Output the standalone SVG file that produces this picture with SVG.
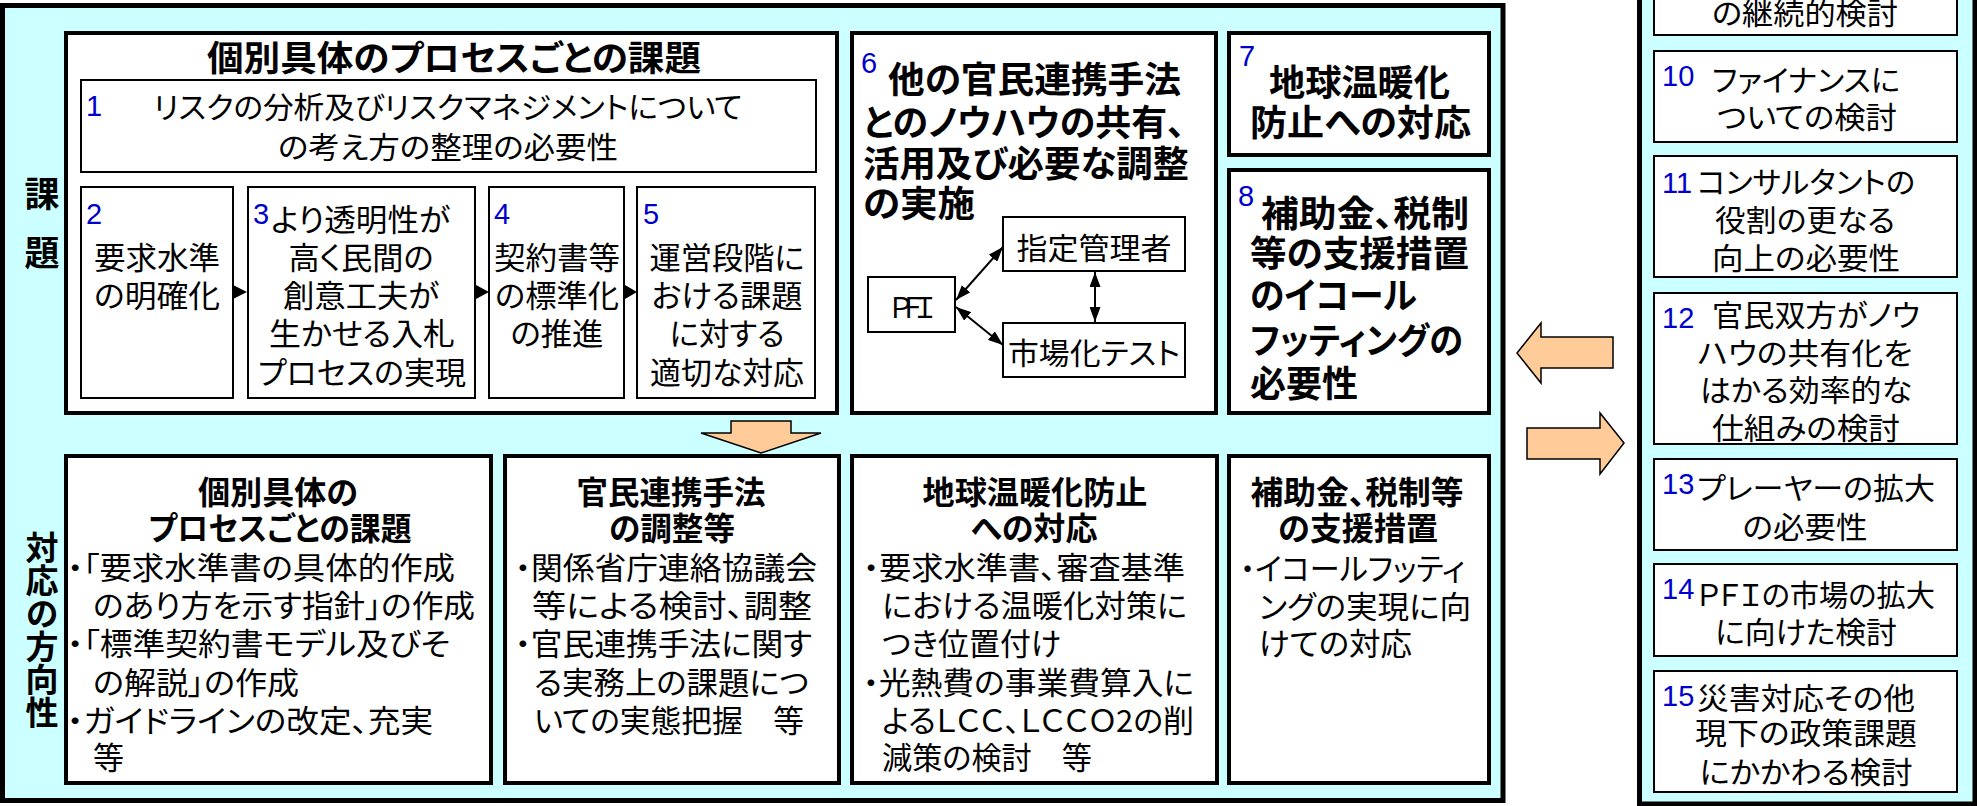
<svg xmlns="http://www.w3.org/2000/svg" width="1977" height="806" viewBox="0 0 1977 806">
<style>
.t{font-family:"Noto Sans CJK JP","Noto Sans CJK SC",sans-serif;font-feature-settings:"palt" 1;fill:#000}
.v{font-family:"Noto Sans CJK JP","Noto Sans CJK SC",sans-serif;font-weight:bold;writing-mode:vertical-rl;fill:#000}
.b{font-weight:bold}
.s30{font-size:30px}
.s31{font-size:31px}
.s32{font-size:32px}
.s36{font-size:36px}
.n{font-family:"Liberation Sans",Arial,sans-serif;font-size:29px;fill:#0000CC}
.m{text-anchor:middle}
.thick{fill:#fff;stroke:#000;stroke-width:4}
.thin{fill:#fff;stroke:#000;stroke-width:2}
.panel{fill:#CCFFFF;stroke:#000;stroke-width:5}
.blk{fill:#FFCC99;stroke:#000;stroke-width:1.5}
.ln{stroke:#000;stroke-width:2;fill:none}
</style>
<defs>
<marker id="ah" viewBox="0 0 15 11" refX="15" refY="5.5" markerWidth="15" markerHeight="11" markerUnits="userSpaceOnUse" orient="auto-start-reverse">
<path d="M0,0 L15,5.5 L0,11 Z" fill="#000"/>
</marker>
</defs>
<rect x="0" y="0" width="1977" height="806" fill="#fff"/>
<g id="panel-left">
<rect class="panel" x="2.5" y="5.5" width="1500.5" height="795"/>
<text class="v" x="42" y="176" font-size="35" letter-spacing="24">課題</text>
<text class="v" x="42" y="531" font-size="33">対応の方向性</text>
</g>
<g id="panel-right">
<rect class="panel" x="1639.5" y="-10" width="335.5" height="814"/>
</g>
<g id="box-A">
<rect class="thick" x="66" y="33" width="771" height="380"/>
<text class="t b m" font-size="35" x="454" y="71" textLength="494" lengthAdjust="spacingAndGlyphs">個別具体のプロセスごとの課題</text>
</g>
<g id="box-1">
<rect class="thin" x="81" y="80" width="735" height="92"/>
<text class="n" x="86" y="116">1</text>
<text class="t s30 m" x="448" y="118" textLength="589" lengthAdjust="spacingAndGlyphs">リスクの分析及びリスクマネジメントについて</text>
<text class="t s30 m" x="448" y="158" textLength="340" lengthAdjust="spacingAndGlyphs">の考え方の整理の必要性</text>
</g>
<g id="box-2">
<rect class="thin" x="81" y="187" width="152" height="211"/>
<text class="n" x="86" y="224">2</text>
<text class="t s31 m" x="157" y="269" textLength="126" lengthAdjust="spacingAndGlyphs">要求水準</text>
<text class="t s31 m" x="157" y="307" textLength="126" lengthAdjust="spacingAndGlyphs">の明確化</text>
</g>
<g id="box-3">
<rect class="thin" x="248" y="187" width="227" height="211"/>
<text class="n" x="253" y="224">3</text>
<text class="t s31" x="271" y="231" textLength="179" lengthAdjust="spacingAndGlyphs">より透明性が</text>
<text class="t s31 m" x="361" y="269" textLength="145" lengthAdjust="spacingAndGlyphs">高く民間の</text>
<text class="t s31 m" x="361" y="307" textLength="156" lengthAdjust="spacingAndGlyphs">創意工夫が</text>
<text class="t s31 m" x="362" y="345" textLength="186" lengthAdjust="spacingAndGlyphs">生かせる入札</text>
<text class="t s31 m" x="362" y="384" textLength="208" lengthAdjust="spacingAndGlyphs">プロセスの実現</text>
</g>
<g id="box-4">
<rect class="thin" x="489" y="187" width="135" height="211"/>
<text class="n" x="494" y="224">4</text>
<text class="t s31 m" x="557" y="269" textLength="126" lengthAdjust="spacingAndGlyphs">契約書等</text>
<text class="t s31 m" x="557" y="307" textLength="124" lengthAdjust="spacingAndGlyphs">の標準化</text>
<text class="t s31 m" x="557" y="345" textLength="93" lengthAdjust="spacingAndGlyphs">の推進</text>
</g>
<g id="box-5">
<rect class="thin" x="637" y="187" width="178" height="211"/>
<text class="n" x="643" y="224">5</text>
<text class="t s31 m" x="727" y="269" textLength="155" lengthAdjust="spacingAndGlyphs">運営段階に</text>
<text class="t s31 m" x="727" y="307" textLength="151" lengthAdjust="spacingAndGlyphs">おける課題</text>
<text class="t s31 m" x="727" y="345" textLength="115" lengthAdjust="spacingAndGlyphs">に対する</text>
<text class="t s31 m" x="727" y="384" textLength="154" lengthAdjust="spacingAndGlyphs">適切な対応</text>
</g>
<g id="box-6">
<rect class="thick" x="852" y="33" width="364" height="380"/>
<text class="n" x="861" y="73">6</text>
<text class="t b s36" x="888" y="93" textLength="293" lengthAdjust="spacingAndGlyphs">他の官民連携手法</text>
<text class="t b s36" x="863" y="136" textLength="322" lengthAdjust="spacingAndGlyphs">とのノウハウの共有、</text>
<text class="t b s36" x="863" y="177" textLength="326" lengthAdjust="spacingAndGlyphs">活用及び必要な調整</text>
<text class="t b s36" x="863" y="217" textLength="112" lengthAdjust="spacingAndGlyphs">の実施</text>
</g>
<g id="node-shitei">
<rect class="thin" x="1003" y="217" width="182" height="54"/>
<text class="t s30 m" x="1094" y="259" textLength="155" lengthAdjust="spacingAndGlyphs">指定管理者</text>
</g>
<g id="node-pfi">
<rect class="thin" x="868" y="277" width="87" height="55"/>
<text class="m" x="913" y="318" font-family="Noto Sans CJK JP,sans-serif" font-size="28" textLength="52" lengthAdjust="spacing">ＰＦＩ</text>
</g>
<g id="node-shijo">
<rect class="thin" x="1003" y="323" width="182" height="54"/>
<text class="t s30 m" x="1094" y="364" textLength="172" lengthAdjust="spacingAndGlyphs">市場化テスト</text>
</g>
<g id="box-7">
<rect class="thick" x="1229" y="33" width="260" height="122"/>
<text class="n" x="1239" y="66">7</text>
<text class="t b s36" x="1269" y="96" textLength="181" lengthAdjust="spacingAndGlyphs">地球温暖化</text>
<text class="t b s36" x="1250" y="136" textLength="221" lengthAdjust="spacingAndGlyphs">防止への対応</text>
</g>
<g id="box-8">
<rect class="thick" x="1229" y="170" width="260" height="243"/>
<text class="n" x="1238" y="206">8</text>
<text class="t b s36" x="1261" y="227" textLength="208" lengthAdjust="spacingAndGlyphs">補助金、税制</text>
<text class="t b s36" x="1250" y="267" textLength="219" lengthAdjust="spacingAndGlyphs">等の支援措置</text>
<text class="t b s36" x="1250" y="309" textLength="167" lengthAdjust="spacingAndGlyphs">のイコール</text>
<text class="t b s36" x="1250" y="354" textLength="213" lengthAdjust="spacingAndGlyphs">フッティングの</text>
<text class="t b s36" x="1250" y="397" textLength="108" lengthAdjust="spacingAndGlyphs">必要性</text>
</g>
<g id="box-B1">
<rect class="thick" x="66" y="456" width="425" height="327"/>
<text class="t b s32 m" x="278" y="504" textLength="160" lengthAdjust="spacingAndGlyphs">個別具体の</text>
<text class="t b s32 m" x="280" y="540" textLength="263" lengthAdjust="spacingAndGlyphs">プロセスごとの課題</text>
<text class="t s31" x="67" y="579" textLength="388" lengthAdjust="spacingAndGlyphs">・「要求水準書の具体的作成</text>
<text class="t s31" x="93" y="617" textLength="382" lengthAdjust="spacingAndGlyphs">のあり方を示す指針」の作成</text>
<text class="t s31" x="67" y="655" textLength="383" lengthAdjust="spacingAndGlyphs">・「標準契約書モデル及びそ</text>
<text class="t s31" x="93" y="694" textLength="206" lengthAdjust="spacingAndGlyphs">の解説」の作成</text>
<text class="t s31" x="67" y="732" textLength="366" lengthAdjust="spacingAndGlyphs">・ガイドラインの改定、充実</text>
<text class="t s31" x="93" y="769">等</text>
</g>
<g id="box-B2">
<rect class="thick" x="505" y="456" width="334" height="327"/>
<text class="t b s32 m" x="671" y="504" textLength="189" lengthAdjust="spacingAndGlyphs">官民連携手法</text>
<text class="t b s32 m" x="672" y="540" textLength="126" lengthAdjust="spacingAndGlyphs">の調整等</text>
<text class="t s31" x="515" y="579" textLength="302" lengthAdjust="spacingAndGlyphs">・関係省庁連絡協議会</text>
<text class="t s31" x="532" y="617" textLength="280" lengthAdjust="spacingAndGlyphs">等による検討、調整</text>
<text class="t s31" x="515" y="655" textLength="297" lengthAdjust="spacingAndGlyphs">・官民連携手法に関す</text>
<text class="t s31" x="534" y="694" textLength="275" lengthAdjust="spacingAndGlyphs">る実務上の課題につ</text>
<text class="t s31" x="534" y="732" textLength="270" lengthAdjust="spacingAndGlyphs">いての実態把握　等</text>
</g>
<g id="box-B3">
<rect class="thick" x="852" y="456" width="365" height="327"/>
<text class="t b s32 m" x="1035" y="504" textLength="225" lengthAdjust="spacingAndGlyphs">地球温暖化防止</text>
<text class="t b s32 m" x="1034" y="540" textLength="127" lengthAdjust="spacingAndGlyphs">への対応</text>
<text class="t s31" x="863" y="579" textLength="322" lengthAdjust="spacingAndGlyphs">・要求水準書、審査基準</text>
<text class="t s31" x="882" y="617" textLength="305" lengthAdjust="spacingAndGlyphs">における温暖化対策に</text>
<text class="t s31" x="882" y="655" textLength="179" lengthAdjust="spacingAndGlyphs">つき位置付け</text>
<text class="t s31" x="863" y="694" textLength="331" lengthAdjust="spacingAndGlyphs">・光熱費の事業費算入に</text>
<text class="t s31" x="882" y="732" textLength="312" lengthAdjust="spacingAndGlyphs">よるＬＣＣ、ＬＣＣＯ2の削</text>
<text class="t s31" x="882" y="769" textLength="210" lengthAdjust="spacingAndGlyphs">減策の検討　等</text>
</g>
<g id="box-B4">
<rect class="thick" x="1229" y="456" width="260" height="327"/>
<text class="t b s32 m" x="1357" y="504" textLength="213" lengthAdjust="spacingAndGlyphs">補助金、税制等</text>
<text class="t b s32 m" x="1358" y="540" textLength="160" lengthAdjust="spacingAndGlyphs">の支援措置</text>
<text class="t s31" x="1240" y="580" textLength="225" lengthAdjust="spacingAndGlyphs">・イコールフッティ</text>
<text class="t s31" x="1259" y="618" textLength="212" lengthAdjust="spacingAndGlyphs">ングの実現に向</text>
<text class="t s31" x="1259" y="655" textLength="153" lengthAdjust="spacingAndGlyphs">けての対応</text>
</g>
<g id="box-9">
<rect class="thin" x="1654" y="-20" width="303" height="55"/>
<text class="t s30 m" x="1805" y="24" textLength="186" lengthAdjust="spacingAndGlyphs">の継続的検討</text>
</g>
<g id="box-10">
<rect class="thin" x="1654" y="51" width="303" height="91"/>
<text class="n" x="1662" y="86">10</text>
<text class="t s30" x="1712" y="91" textLength="188" lengthAdjust="spacingAndGlyphs">ファイナンスに</text>
<text class="t s30 m" x="1807" y="128" textLength="180" lengthAdjust="spacingAndGlyphs">ついての検討</text>
</g>
<g id="box-11">
<rect class="thin" x="1654" y="156" width="303" height="121"/>
<text class="n" x="1662" y="193">11</text>
<text class="t s30" x="1697" y="193" textLength="218" lengthAdjust="spacingAndGlyphs">コンサルタントの</text>
<text class="t s30 m" x="1805" y="231" textLength="180" lengthAdjust="spacingAndGlyphs">役割の更なる</text>
<text class="t s30 m" x="1806" y="269" textLength="188" lengthAdjust="spacingAndGlyphs">向上の必要性</text>
</g>
<g id="box-12">
<rect class="thin" x="1654" y="293" width="303" height="151"/>
<text class="n" x="1662" y="328">12</text>
<text class="t s30" x="1712" y="326" textLength="208" lengthAdjust="spacingAndGlyphs">官民双方がノウ</text>
<text class="t s30 m" x="1805" y="364" textLength="215" lengthAdjust="spacingAndGlyphs">ハウの共有化を</text>
<text class="t s30 m" x="1806" y="401" textLength="212" lengthAdjust="spacingAndGlyphs">はかる効率的な</text>
<text class="t s30 m" x="1806" y="439" textLength="188" lengthAdjust="spacingAndGlyphs">仕組みの検討</text>
</g>
<g id="box-13">
<rect class="thin" x="1654" y="459" width="303" height="91"/>
<text class="n" x="1662" y="494">13</text>
<text class="t s30" x="1697" y="499" textLength="238" lengthAdjust="spacingAndGlyphs">プレーヤーの拡大</text>
<text class="t s30 m" x="1805" y="538" textLength="125" lengthAdjust="spacingAndGlyphs">の必要性</text>
</g>
<g id="box-14">
<rect class="thin" x="1654" y="564" width="303" height="92"/>
<text class="n" x="1662" y="599">14</text>
<text class="t s30" x="1697" y="606" textLength="238" lengthAdjust="spacingAndGlyphs">ＰＦＩの市場の拡大</text>
<text class="t s30 m" x="1806" y="643" textLength="182" lengthAdjust="spacingAndGlyphs">に向けた検討</text>
</g>
<g id="box-15">
<rect class="thin" x="1654" y="671" width="303" height="121"/>
<text class="n" x="1662" y="706">15</text>
<text class="t s30" x="1697" y="709" textLength="218" lengthAdjust="spacingAndGlyphs">災害対応その他</text>
<text class="t s30 m" x="1806" y="744" textLength="222" lengthAdjust="spacingAndGlyphs">現下の政策課題</text>
<text class="t s30 m" x="1806" y="783" textLength="213" lengthAdjust="spacingAndGlyphs">にかかわる検討</text>
</g>
<g id="connectors">
<path d="M233,285 L247,292 L233,299 Z" fill="#000"/>
<path d="M476,285 L489,292 L476,299 Z" fill="#000"/>
<path d="M625,285 L637,292 L625,299 Z" fill="#000"/>
<line class="ln" x1="956" y1="300" x2="1003" y2="247" marker-start="url(#ah)" marker-end="url(#ah)"/>
<line class="ln" x1="956" y1="307" x2="1003" y2="345" marker-start="url(#ah)" marker-end="url(#ah)"/>
<line class="ln" x1="1095" y1="272" x2="1095" y2="322" marker-start="url(#ah)" marker-end="url(#ah)"/>
<polygon class="blk" points="731,421 791,421 791,433 821,433 761,453 701,433 731,433"/>
<polygon class="blk" points="1613,337 1541,337 1541,323 1517,353 1541,383 1541,368 1613,368"/>
<polygon class="blk" points="1527,428 1600,428 1600,413 1624,443 1600,474 1600,459 1527,459"/>
</g>
</svg>
